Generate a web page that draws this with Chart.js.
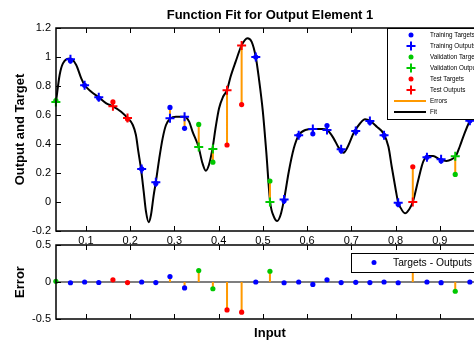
<!DOCTYPE html>
<html><head><meta charset="utf-8">
<script src="https://cdn.jsdelivr.net/npm/chart.js@4/dist/chart.umd.min.js"></script>
<style>
html,body{margin:0;padding:0;background:#fff;overflow:hidden;width:474px;height:341px;}
canvas{position:absolute;left:0;top:0;}
</style></head><body>
<canvas id="c1" width="520" height="341"></canvas>
<canvas id="c2" width="520" height="341"></canvas>
<script>
// ---- data ----
const inputs = [0.032,0.065,0.097,0.129,0.161,0.194,0.226,0.258,0.290,0.323,0.355,0.387,0.419,0.452,0.484,0.516,0.548,0.581,0.613,0.645,0.677,0.710,0.742,0.774,0.806,0.839,0.871,0.903,0.935,0.968];
const groups = ['val','train','train','train','test','test','train','train','train','train','val','val','test','test','train','val','train','train','train','train','train','train','train','train','train','test','train','train','val','train'];
const targets = [0.70,0.975,0.805,0.715,0.69,0.572,0.228,0.128,0.652,0.508,0.535,0.275,0.393,0.672,1.0,0.145,0.008,0.46,0.47,0.527,0.355,0.485,0.55,0.46,-0.015,0.243,0.308,0.285,0.19,0.56];
const outputs = [0.69,0.985,0.805,0.722,0.66,0.58,0.228,0.136,0.578,0.588,0.38,0.366,0.77,1.08,1.0,0.0,0.018,0.46,0.503,0.497,0.363,0.49,0.558,0.46,-0.005,0.0,0.308,0.294,0.315,0.56];
const fitX = [0.0323,0.0405,0.048,0.0647,0.078,0.0894,0.097,0.112,0.129,0.146,0.161,0.1795,0.194,0.206,0.213,0.2185,0.2245,0.2306,0.2358,0.2419,0.247,0.2532,0.258,0.2658,0.2734,0.281,0.2906,0.3034,0.322,0.3333,0.341,0.3545,0.3635,0.371,0.378,0.386,0.3935,0.401,0.41,0.419,0.427,0.4385,0.452,0.465,0.4745,0.484,0.491,0.5,0.5077,0.5165,0.5248,0.5324,0.54,0.548,0.5586,0.57,0.581,0.596,0.6135,0.634,0.645,0.66,0.671,0.6824,0.6937,0.705,0.72,0.731,0.7426,0.7577,0.7725,0.784,0.7914,0.8005,0.806,0.81,0.8214,0.831,0.839,0.8514,0.8626,0.874,0.885,0.9,0.915,0.9266,0.9363,0.945,0.956,0.968,0.977,0.99,1.0];
const fitY = [0.69,0.876,0.956,0.99,0.945,0.853,0.807,0.76,0.722,0.68,0.66,0.623,0.58,0.531,0.462,0.347,0.228,0.071,-0.067,-0.14,-0.09,0.048,0.136,0.301,0.439,0.531,0.575,0.588,0.588,0.554,0.485,0.381,0.267,0.216,0.255,0.366,0.519,0.646,0.726,0.772,0.864,0.968,1.08,1.129,1.106,1.0,0.853,0.623,0.347,0.0,-0.101,-0.131,-0.09,0.018,0.209,0.37,0.46,0.497,0.503,0.503,0.497,0.439,0.377,0.34,0.393,0.474,0.543,0.57,0.559,0.519,0.474,0.381,0.243,0.083,-0.005,-0.032,-0.078,-0.05,0.0,0.152,0.278,0.317,0.317,0.294,0.283,0.294,0.317,0.381,0.474,0.56,0.612,0.68,0.72];
const xTicks = [0.1,0.2,0.3,0.4,0.5,0.6,0.7,0.8,0.9];
const yTicksFit = [-0.2,0,0.2,0.4,0.6,0.8,1,1.2];
const yTicksErr = [-0.5,0,0.5];
const xMin = 0.0323, xMax = 1.0;

// ---- styling ----
const FONT = '"Liberation Sans", Arial, Helvetica, sans-serif';
const C = {train:'#0000ff', val:'#00c800', test:'#ff0000', err:'#ff9900'};
Chart.defaults.color = '#000';
Chart.defaults.font.family = FONT;

const errors = targets.map((t,i)=>t-outputs[i]);
const sel = (arr,g)=>inputs.map((x,i)=>({x, y:arr[i], g:groups[i]})).filter(p=>p.g===g);
const fmt = v => String(Math.round(v*10)/10);

const frame = {
  id:'frame',
  afterDraw(chart){
    const {ctx, chartArea:a, scales:{x,y}} = chart;
    ctx.save();
    ctx.strokeStyle='#000'; ctx.lineWidth=1;
    const L=5;
    ctx.beginPath();
    x.ticks.forEach(t=>{const p=Math.round(x.getPixelForValue(t.value))+0.5;
      ctx.moveTo(p,a.top); ctx.lineTo(p,a.top+L); ctx.moveTo(p,a.bottom); ctx.lineTo(p,a.bottom-L);});
    y.ticks.forEach(t=>{const p=Math.round(y.getPixelForValue(t.value))+0.5;
      ctx.moveTo(a.left,p); ctx.lineTo(a.left+L,p); ctx.moveTo(a.right,p); ctx.lineTo(a.right-L,p);});
    ctx.stroke();
    ctx.lineWidth=1.5;
    ctx.strokeRect(a.left,a.top,a.right-a.left,a.bottom-a.top);
    ctx.restore();
  }
};

function drawMarker(ctx, kind, color, cx, cy){
  ctx.save();
  if(kind==='dot'){ctx.fillStyle=color;ctx.beginPath();ctx.arc(cx,cy,2.5,0,Math.PI*2);ctx.fill();}
  else if(kind==='cross'){ctx.strokeStyle=color;ctx.lineWidth=2;ctx.beginPath();ctx.moveTo(cx-4.5,cy);ctx.lineTo(cx+4.5,cy);ctx.moveTo(cx,cy-4.5);ctx.lineTo(cx,cy+4.5);ctx.stroke();}
  ctx.restore();
}

const legendItems = [
 ['Training Targets','dot',C.train],['Training Outputs','cross',C.train],
 ['Validation Targets','dot',C.val],['Validation Outputs','cross',C.val],
 ['Test Targets','dot',C.test],['Test Outputs','cross',C.test],
 ['Errors','line',C.err],['Fit','line','#000']
];
const fitLegend = {
  id:'fitLegend',
  afterDraw(chart){
    const {ctx, chartArea:a} = chart;
    const x0=387, y0=a.top, x1=a.right-1, y1=119;
    ctx.save();
    ctx.fillStyle='#fff'; ctx.fillRect(x0,y0,x1-x0,y1-y0);
    ctx.strokeStyle='#000'; ctx.lineWidth=1; ctx.strokeRect(x0+0.5,y0+0.5,x1-x0,y1-y0);
    ctx.font='6.3px '+FONT; ctx.textBaseline='middle'; ctx.textAlign='left';
    legendItems.forEach((it,i)=>{
      const yy = 35 + i*11;
      if(it[1]==='line'){ctx.strokeStyle=it[2];ctx.lineWidth=2;ctx.beginPath();ctx.moveTo(394,yy);ctx.lineTo(426,yy);ctx.stroke();}
      else drawMarker(ctx,it[1],it[2],411,yy);
      ctx.fillStyle='#000'; ctx.fillText(it[0],430,yy);
    });
    ctx.font='bold 13px '+FONT; ctx.textAlign='center';
    ctx.fillText('Function Fit for Output Element 1',(a.left+a.right)/2,15);
    ctx.restore();
  }
};
const errLegend = {
  id:'errLegend',
  afterDraw(chart){
    const {ctx, chartArea:a} = chart;
    const x0=351, y0=253, x1=a.right-2, y1=272;
    ctx.save();
    ctx.fillStyle='#fff'; ctx.fillRect(x0,y0,x1-x0,y1-y0);
    ctx.strokeStyle='#000'; ctx.lineWidth=1; ctx.strokeRect(x0+0.5,y0+0.5,x1-x0,y1-y0);
    drawMarker(ctx,'dot',C.train,374,262.5);
    ctx.fillStyle='#000'; ctx.font='10.3px '+FONT; ctx.textBaseline='middle'; ctx.textAlign='left';
    ctx.fillText('Targets - Outputs',393,263);
    ctx.restore();
  }
};

const xScale = (showLabels, title, h) => ({
  type:'linear', min:xMin, max:xMax,
  afterBuildTicks: s => { s.ticks = xTicks.map(v=>({value:v})); },
  afterFit: s => { s.height = h; },
  grid:{display:false, drawTicks:false}, border:{display:false},
  ticks:{display:showLabels, padding:3, font:{size:11}, callback:fmt, maxRotation:0, autoSkip:false},
  title:{display:!!title, text:title||'', font:{size:13, weight:'bold'}, padding:{top:0,bottom:0}}
});
const yScale = (min,max,ticks,title) => ({
  type:'linear', min, max,
  afterBuildTicks: s => { s.ticks = ticks.map(v=>({value:v})); },
  afterFit: s => { s.width = 56; },
  grid:{display:false, drawTicks:false}, border:{display:false},
  ticks:{padding:5, font:{size:11}, callback:fmt, autoSkip:false},
  title:{display:true, text:title, font:{size:13, weight:'bold'}, padding:{top:13,bottom:0}}
});

const ds1 = [];
[['train','Training'],['val','Validation'],['test','Test']].forEach(([g,n])=>{
  ds1.push({label:n+' Outputs', data:sel(outputs,g), pointStyle:'cross', pointRadius:4.5, borderColor:C[g], backgroundColor:C[g], borderWidth:2, order:0, clip:false});
  ds1.push({label:n+' Targets', data:sel(targets,g), pointStyle:'circle', pointRadius:2.6, borderWidth:0, backgroundColor:C[g], borderColor:C[g], order:1, clip:false});
});
const errSeg = [];
inputs.forEach((x,i)=>{ errSeg.push({x,y:targets[i]},{x,y:outputs[i]},{x,y:null}); });
ds1.push({label:'Errors', data:errSeg, showLine:true, spanGaps:false, pointRadius:0, borderColor:C.err, borderWidth:2, order:2});
ds1.push({label:'Fit', data:fitX.map((x,i)=>({x,y:fitY[i]})), showLine:true, pointRadius:0, borderColor:'#000', borderWidth:2, cubicInterpolationMode:'monotone', order:3});

new Chart(document.getElementById('c1'), {
  type:'scatter',
  data:{datasets:ds1},
  options:{
    responsive:false, animation:false, events:[],
    layout:{padding:{left:0, top:28, right:36, bottom:90}},
    plugins:{legend:{display:false}, tooltip:{enabled:false}},
    scales:{x:xScale(true,null,20), y:yScale(-0.2,1.2,yTicksFit,'Output and Target')}
  },
  plugins:[frame, fitLegend]
});

const ds2 = [];
['train','val','test'].forEach(g=>{
  ds2.push({label:'Targets - Outputs', data:sel(errors,g), pointStyle:'circle', pointRadius:2.6, borderWidth:0, backgroundColor:C[g], order:0, clip:false});
});
const stemSeg = [];
inputs.forEach((x,i)=>{ stemSeg.push({x,y:0},{x,y:errors[i]},{x,y:null}); });
ds2.push({label:'stems', data:stemSeg, showLine:true, spanGaps:false, pointRadius:0, borderColor:C.err, borderWidth:2, order:1});
ds2.push({label:'zero', data:[{x:xMin,y:0},{x:xMax,y:0}], showLine:true, pointRadius:0, borderColor:'#555', borderWidth:1.5, order:2});

new Chart(document.getElementById('c2'), {
  type:'scatter',
  data:{datasets:ds2},
  options:{
    responsive:false, animation:false, events:[],
    layout:{padding:{left:0, top:245, right:36, bottom:0}},
    plugins:{legend:{display:false}, tooltip:{enabled:false}},
    scales:{x:xScale(false,'Input',22), y:yScale(-0.5,0.5,yTicksErr,'Error')}
  },
  plugins:[frame, errLegend]
});
</script>
</body></html>
